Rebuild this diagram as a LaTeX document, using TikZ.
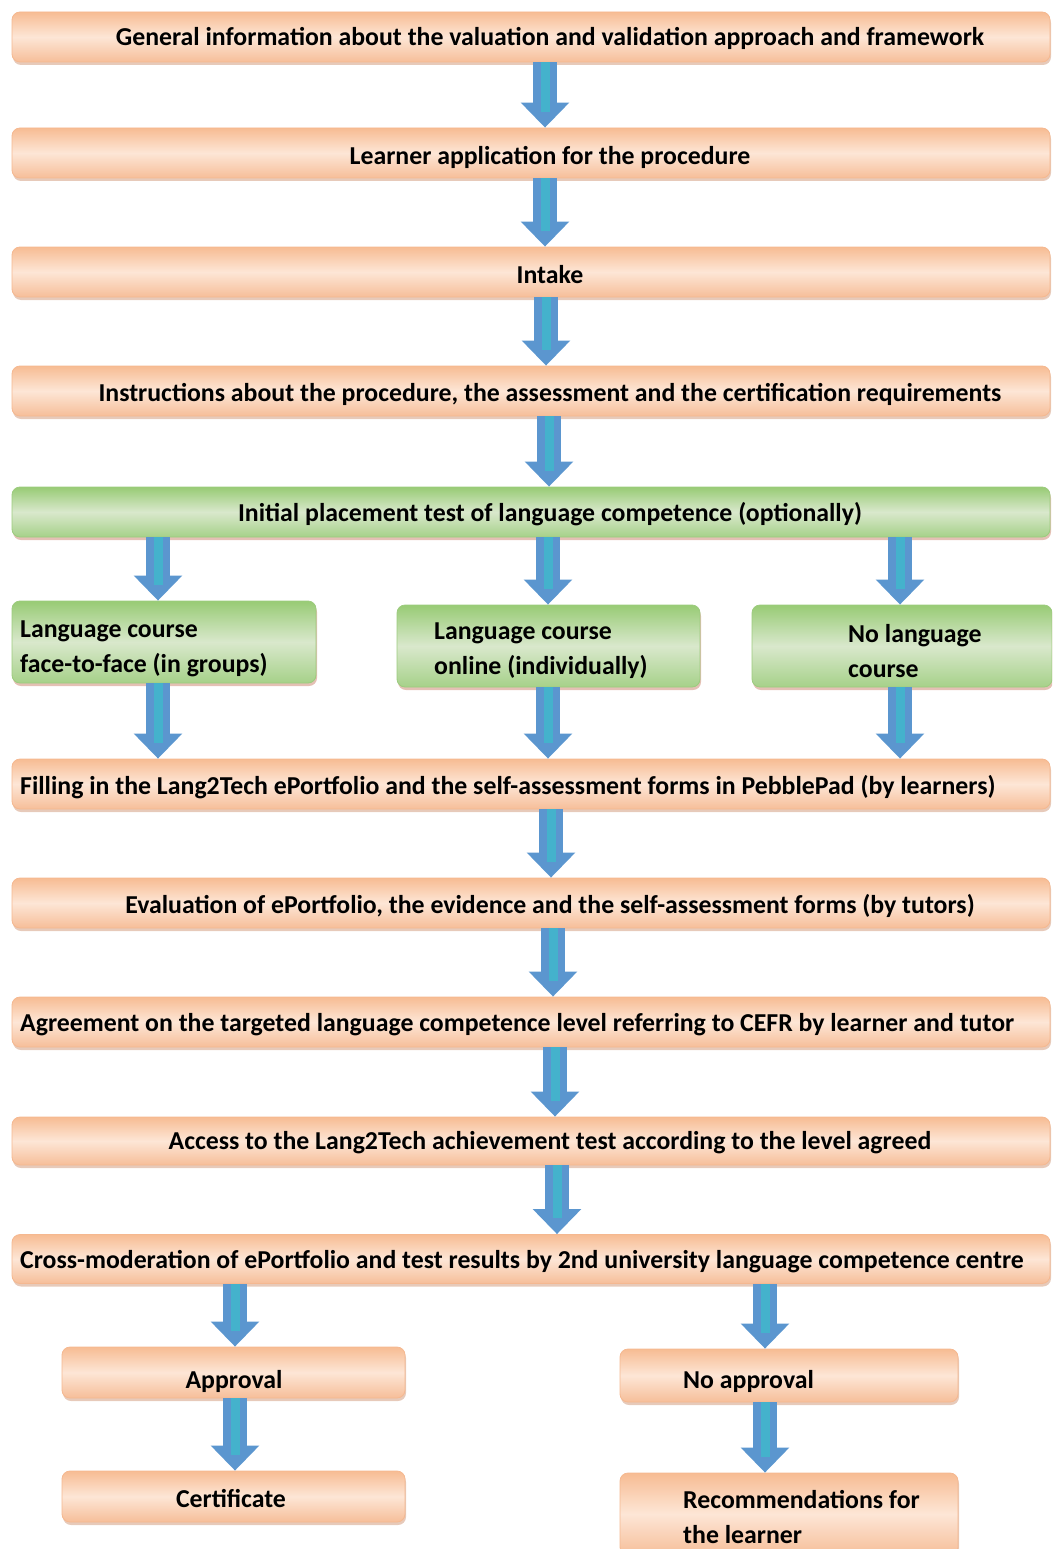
\documentclass[tikz,border=0pt]{standalone}
\usepackage{fontspec}
\setmainfont{Carlito}
\usetikzlibrary{arrows.meta,shadows,calc}
\definecolor{orTop}{HTML}{F7BC93}
\definecolor{orMid}{HTML}{FDE6D6}
\definecolor{orBot}{HTML}{F6BE99}
\definecolor{orBorder}{HTML}{F5B890}
\definecolor{orShadow}{HTML}{C98A66}
\definecolor{grTop}{HTML}{98CB75}
\definecolor{grMid}{HTML}{D9E8CC}
\definecolor{grBot}{HTML}{A6D189}
\definecolor{grBorder}{HTML}{9CCB7E}
\definecolor{grShadow}{HTML}{C9826A}
\definecolor{arBlue}{HTML}{5B96CF}
\definecolor{arCyan}{HTML}{44B2CC}
\tikzset{
  box/.style={rectangle, rounded corners=8pt, inner sep=0pt, draw=orBorder, line width=0.8pt,
    top color=orTop, bottom color=orBot, middle color=orMid,
    drop shadow={opacity=0.45, shadow xshift=1pt, shadow yshift=-3pt, fill=orShadow}},
  gbox/.style={rectangle, rounded corners=8pt, inner sep=0pt, draw=grBorder, line width=0.8pt,
    top color=grTop, bottom color=grBot, middle color=grMid,
    drop shadow={opacity=0.5, shadow xshift=1pt, shadow yshift=-3pt, fill=grShadow}},
  lbl/.style={inner sep=0pt, font=\bfseries\fontsize{25.8}{35}\selectfont, text=black},
  arrowout/.style={line width=24pt, color=arBlue, -{Triangle[width=47pt,length=25pt]}},
  arrowin/.style={line width=9pt, color=arCyan, shorten >=16pt}
}
\newcommand\barrow[3]{%
  \draw[arrowout] (#2.south -| #1,0) -- (#3.north -| #1,0);
  \draw[arrowin] (#2.south -| #1,0) -- (#3.north -| #1,0);
}
\begin{document}
\begin{tikzpicture}[x=1pt,y=-1pt]
\useasboundingbox (0,0) rectangle (1052,1549);
\clip (0,0) rectangle (1052,1549);
% main boxes
\node[box, minimum width=1038pt, minimum height=50pt] (b1) at (531,37) {};
\node[box, minimum width=1038pt, minimum height=50pt] (b2) at (531,153) {};
\node[box, minimum width=1038pt, minimum height=50pt] (b3) at (531,272) {};
\node[box, minimum width=1038pt, minimum height=50pt] (b4) at (531,391) {};
\node[gbox, minimum width=1038pt, minimum height=50pt] (b5) at (531,512) {};
\node[gbox, minimum width=304pt, minimum height=82pt] (g1) at (164,642) {};
\node[gbox, minimum width=303pt, minimum height=82pt] (g2) at (548.5,646) {};
\node[gbox, minimum width=300pt, minimum height=82pt] (g3) at (902,646) {};
\node[box, minimum width=1038pt, minimum height=50pt] (b6) at (531,784) {};
\node[box, minimum width=1038pt, minimum height=50pt] (b7) at (531,903) {};
\node[box, minimum width=1038pt, minimum height=50pt] (b8) at (531,1022) {};
\node[box, minimum width=1038pt, minimum height=48pt] (b9) at (531,1141) {};
\node[box, minimum width=1038pt, minimum height=49pt] (b10) at (531,1259) {};
\node[box, minimum width=343pt, minimum height=51pt] (ap) at (233.5,1372.5) {};
\node[box, minimum width=343pt, minimum height=51pt] (ce) at (233.5,1496.5) {};
\node[box, minimum width=338pt, minimum height=53pt] (na) at (789,1375.5) {};
\node[box, minimum width=338pt, minimum height=82pt] (re) at (789,1514) {};
% texts
\node[lbl] (t1) at (550,38) {General information about the valuation and validation approach and framework};
\node[lbl] (t2) at (550,157) {Learner application for the procedure};
\node[lbl] (t3) at (550,275) {Intake};
\node[lbl] (t4) at (550,394) {Instructions about the procedure, the assessment and the certification requirements};
\node[lbl] (t5) at (550,514) {Initial placement test of language competence (optionally)};
\node[lbl, anchor=west, align=left] (tg1) at (20,649) {Language course\\face-to-face (in groups)};
\node[lbl, anchor=west, align=left] (tg2) at (434,651) {Language course\\online (individually)};
\node[lbl, anchor=west, align=left] (tg3) at (848,651) {No language\\course};
\node[lbl, anchor=west] (t6) at (20,787) {Filling in the Lang2Tech ePortfolio and the self-assessment forms in PebblePad (by learners)};
\node[lbl] (t7) at (550,906) {Evaluation of ePortfolio, the evidence and the self-assessment forms (by tutors)};
\node[lbl, anchor=west] (t8) at (20,1025) {Agreement on the targeted language competence level referring to CEFR by learner and tutor};
\node[lbl] (t9) at (550,1143) {Access to the Lang2Tech achievement test according to the level agreed};
\node[lbl, anchor=west] (t10) at (20,1262) {Cross-moderation of ePortfolio and test results by 2nd university language competence centre};
\node[lbl] (tap) at (234,1381) {Approval};
\node[lbl] (tce) at (231,1499) {Certificate};
\node[lbl, anchor=west] (tna) at (683,1381) {No approval};
\node[lbl, anchor=west, align=left] (tre) at (683,1517) {Recommendations for\\the learner};
% arrows
\barrow{545}{b1}{b2}
\barrow{545}{b2}{b3}
\barrow{546}{b3}{b4}
\barrow{549}{b4}{b5}
\barrow{158}{b5}{g1}
\barrow{548}{b5}{g2}
\barrow{900}{b5}{g3}
\barrow{158}{g1}{b6}
\barrow{548}{g2}{b6}
\barrow{900}{g3}{b6}
\barrow{551}{b6}{b7}
\barrow{553}{b7}{b8}
\barrow{555}{b8}{b9}
\barrow{557}{b9}{b10}
\barrow{235}{b10}{ap}
\barrow{765}{b10}{na}
\barrow{235}{ap}{ce}
\barrow{765}{na}{re}
\end{tikzpicture}
\end{document}
